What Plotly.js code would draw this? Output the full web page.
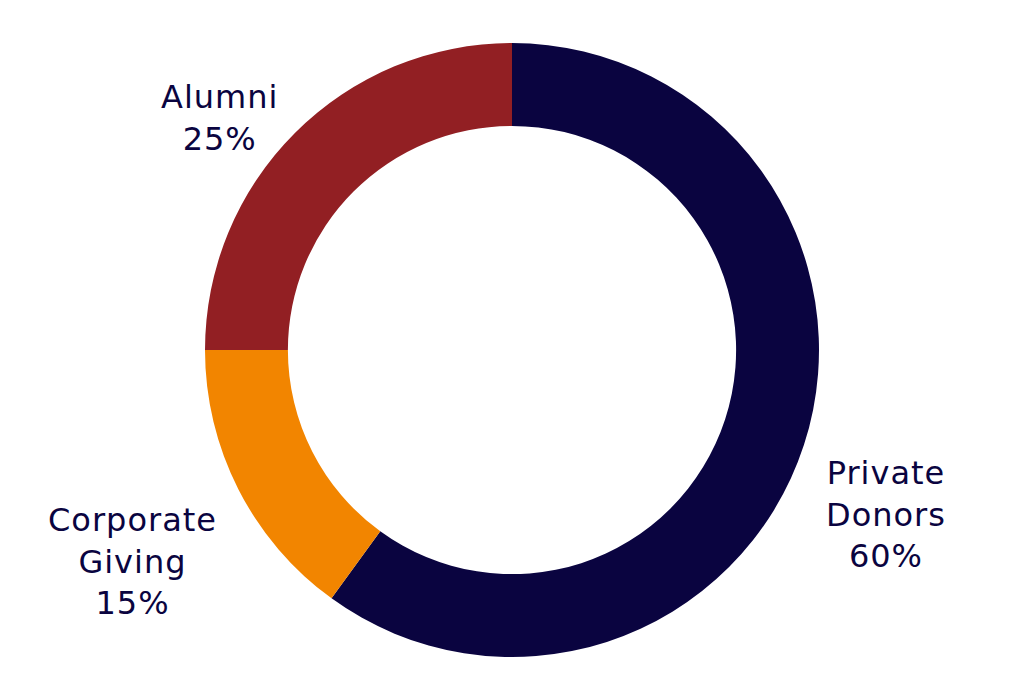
<!DOCTYPE html>
<html>
<head>
<meta charset="utf-8">
<script src="https://cdn.plot.ly/plotly-3.0.1.min.js"></script>
<style>
html,body{margin:0;padding:0;background:#fff;}
#chart{width:1024px;height:700px;}
.annotation-text{letter-spacing:1px;}
</style>
</head>
<body>
<div id="chart"></div>
<script>
const categories = ["Private Donors", "Corporate Giving", "Alumni"];
const shares = [60, 15, 25];
const sliceColors = ["#0a0440", "#f28500", "#921f23"];

// Label text: category (wrapped at the space) plus its share
const displayText = categories.map((c, i) => c.replace(" ", "<br>") + "<br>" + shares[i] + "%");

const trace = {
  type: "pie",
  labels: categories,
  values: shares,
  textinfo: "none",
  hole: 0.73,
  sort: false,
  direction: "clockwise",
  rotation: 0,
  marker: {colors: sliceColors, line: {width: 0}},
  showlegend: false,
  hoverinfo: "label+percent"
};

// Place each label just outside the ring, along the middle angle of its slice
// (pie fills the square plot area, so outer radius = 0.5 in paper units)
const total = shares.reduce((a, b) => a + b, 0);
const labelRadius = 0.5 * 1.07;
let cum = 0;
const annotations = shares.map((v, i) => {
  const mid = (cum + v / 2) / total * 2 * Math.PI; // clockwise from 12 o'clock
  cum += v;
  const s = Math.sin(mid), c = Math.cos(mid);
  return {
    xref: "paper", yref: "paper",
    x: 0.5 + labelRadius * s,
    y: 0.5 + labelRadius * c,
    xanchor: s >= 0 ? "left" : "right",
    yanchor: c < 0 ? "top" : "middle",
    text: displayText[i],
    showarrow: false,
    align: "center",
    font: {family: "DejaVu Sans, sans-serif", size: 32, color: "#0a0440"}
  };
});

const layout = {
  width: 1024, height: 700,
  margin: {l: 205, r: 205, t: 43, b: 43},
  paper_bgcolor: "#ffffff",
  showlegend: false,
  annotations: annotations
};

Plotly.newPlot("chart", [trace], layout, {displayModeBar: false, staticPlot: true});
</script>
</body>
</html>
